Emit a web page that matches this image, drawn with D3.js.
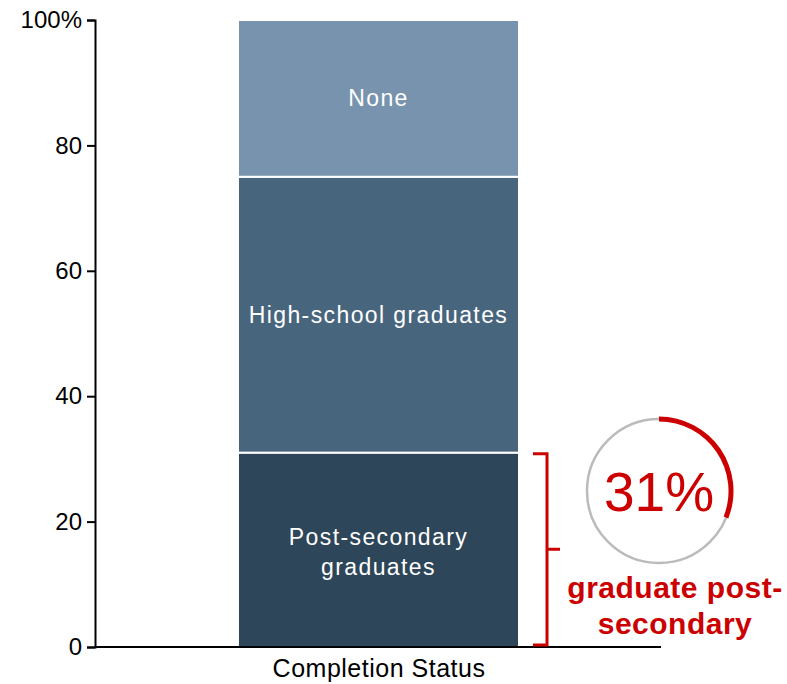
<!DOCTYPE html>
<html><head><meta charset="utf-8">
<script src="https://cdn.jsdelivr.net/npm/d3@7"></script>
<style>body{margin:0;background:#fff}svg{display:block;font-family:"Liberation Sans",Arial,sans-serif}</style>
</head><body><svg id="c" width="787" height="684"></svg>
<script>
const category = "Completion Status";
const segments = ["Post-secondary graduates", "High-school graduates", "None"];
const segmentLabels = [["Post-secondary", "graduates"], ["High-school graduates"], ["None"]];
const values = [31, 44, 25];
const colors = ["#2e4659", "#48657e", "#7893ad"];
const yTicks = [0, 20, 40, 60, 80, 100];
const highlightValue = 31;
const highlightText = ["graduate post-", "secondary"];

const svg = d3.select("#c");
const y = d3.scaleLinear().domain([0, 100]).range([647, 20]);

let cum = 0;
const stacked = values.map((v, i) => { const d = {i, y0: cum, y1: cum + v}; cum += v; return d; });

const bx = 238, bw = 281;
svg.append("g").selectAll("rect").data(stacked).join("rect")
  .attr("x", bx).attr("width", bw)
  .attr("y", d => y(d.y1)).attr("height", d => y(d.y0) - y(d.y1))
  .attr("fill", d => colors[d.i]).attr("stroke", "#fff").attr("stroke-width", 2);

stacked.forEach(d => {
  const lines = segmentLabels[d.i];
  const cy = (y(d.y0) + y(d.y1)) / 2;
  const lh = 30;
  lines.forEach((t, k) => {
    svg.append("text").attr("x", bx + bw / 2).attr("y", cy + (k - (lines.length - 1) / 2) * lh + 8 + (lines.length > 1 ? 2 : 0))
      .attr("text-anchor", "middle").attr("fill", "#fff").attr("font-size", 23)
      .attr("letter-spacing", 1.4).text(t);
  });
});

// y axis
const ya = svg.append("g").attr("transform", "translate(95,0)")
  .call(d3.axisLeft(y).tickValues(yTicks).tickSize(8).tickPadding(5).tickFormat(d => d === 100 ? "100%" : d));
ya.select(".domain").attr("stroke", "#000").attr("stroke-width", 2);
ya.selectAll(".tick line").attr("stroke", "#000").attr("stroke-width", 2);
ya.selectAll(".tick text").attr("font-size", 24).attr("fill", "#000").attr("font-family", "Liberation Sans, Arial, sans-serif");

// x axis
svg.append("line").attr("x1", 95).attr("x2", 661).attr("y1", y(0)).attr("y2", y(0)).attr("stroke", "#000").attr("stroke-width", 2);
svg.append("text").attr("x", 379).attr("y", 677).attr("text-anchor", "middle").attr("font-size", 25)
  .attr("letter-spacing", 0.5).attr("fill", "#000").text(category);

// bracket
const red = "#cc0000";
const b0 = y(0) - 2, b1 = y(highlightValue) + 1, bxl = 547;
const bm = (b0 + b1) / 2;
svg.append("path")
  .attr("d", `M${bxl-14},${b1} L${bxl},${b1} L${bxl},${b0} L${bxl-14},${b0} M${bxl},${bm} L${bxl+13},${bm}`)
  .attr("fill", "none").attr("stroke", red).attr("stroke-width", 3);

// circle indicator
const cx = 659, cy = 491, r = 72;
svg.append("circle").attr("cx", cx).attr("cy", cy).attr("r", r).attr("fill", "none").attr("stroke", "#bbbbbb").attr("stroke-width", 2.5);
const arc = d3.arc().innerRadius(r - 2.5).outerRadius(r + 2.5).startAngle(0).endAngle(2 * Math.PI * highlightValue / 100);
svg.append("path").attr("transform", `translate(${cx},${cy})`).attr("d", arc()).attr("fill", red);
svg.append("text").attr("x", cx).attr("y", cy + 20).attr("text-anchor", "middle").attr("font-size", 55).attr("fill", red).text(highlightValue + "%");
highlightText.forEach((t, k) => {
  svg.append("text").attr("x", 675).attr("y", 598 + k * 36).attr("text-anchor", "middle")
    .attr("font-size", 30).attr("font-weight", "bold").attr("letter-spacing", 0.5).attr("fill", red).text(t);
});
</script></body></html>
